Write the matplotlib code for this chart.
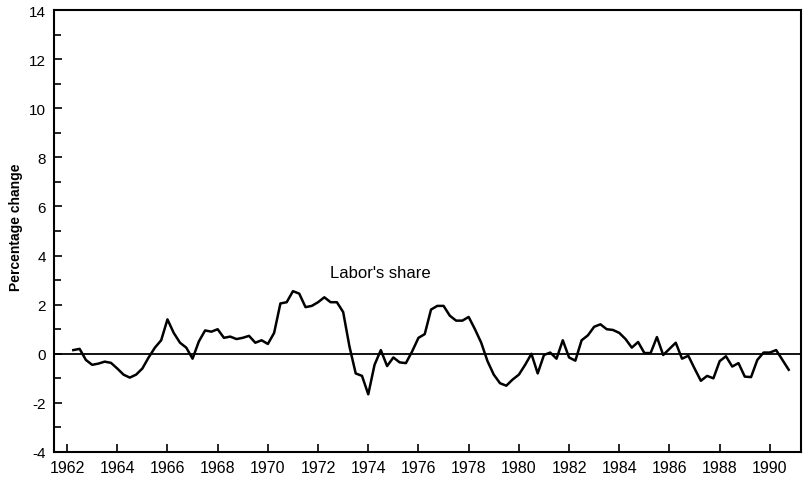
import matplotlib
matplotlib.use("Agg")
import matplotlib.pyplot as plt
from matplotlib.ticker import MultipleLocator

plt.rcParams['font.family'] = ['Liberation Sans', 'DejaVu Sans']

# Quarterly observations, 1962Q2 .. 1990Q4 (percentage change)
start_year = 1962.25
labor_share = [
    0.15, 0.2, -0.25,
    -0.45, -0.4, -0.32, -0.37,
    -0.6, -0.85, -0.97, -0.85,
    -0.6, -0.15, 0.25, 0.55,
    1.4, 0.85, 0.45, 0.25,
    -0.2, 0.5, 0.95, 0.9,
    1.0, 0.65, 0.7, 0.6,
    0.65, 0.73, 0.45, 0.55,
    0.4, 0.85, 2.05, 2.1,
    2.55, 2.45, 1.9, 1.95,
    2.1, 2.3, 2.1, 2.1,
    1.7, 0.3, -0.8, -0.9,
    -1.65, -0.45, 0.15, -0.5,
    -0.15, -0.35, -0.38, 0.1,
    0.65, 0.8, 1.8, 1.95,
    1.95, 1.55, 1.35, 1.35,
    1.5, 1.0, 0.45, -0.3,
    -0.85, -1.2, -1.3, -1.05,
    -0.85, -0.45, 0.0, -0.8,
    -0.05, 0.05, -0.2, 0.55,
    -0.15, -0.28, 0.55, 0.75,
    1.1, 1.2, 1.0, 0.97,
    0.85, 0.6, 0.25, 0.48,
    0.03, 0.03, 0.68, -0.05,
    0.2, 0.45, -0.2, -0.08,
    -0.6, -1.1, -0.9, -1.0,
    -0.3, -0.1, -0.52, -0.38,
    -0.93, -0.95, -0.25, 0.05,
    0.05, 0.15, -0.25, -0.65,
]
years = [start_year + 0.25 * i for i in range(len(labor_share))]

xticks = list(range(1962, 1991, 2))
yticks = list(range(-4, 15, 2))
series_label = "Labor's share"
ylabel = "Percentage change"

fig = plt.figure(figsize=(8.1, 4.85), dpi=100)
ax = fig.add_axes([54/810, 1 - 453/485, (801 - 54)/810, (453 - 11)/485])

ax.plot(years, labor_share, color='black', lw=1.8, solid_joinstyle='round')
ax.axhline(0, color='black', lw=1.3)

ax.set_xlim(1961.48, 1991.24)
ax.set_ylim(-4, 14)
ax.set_xticks(xticks)
ax.set_xticklabels([str(t) for t in xticks])
ax.set_yticks(yticks)
ax.set_yticklabels([str(t) for t in yticks])
ax.yaxis.set_minor_locator(MultipleLocator(1))

ax.tick_params(axis='both', which='major', direction='in', length=6, width=1.2,
               colors='black')
ax.tick_params(axis='x', which='major', labelsize=11.5, pad=6)
ax.tick_params(axis='y', which='major', labelsize=11, pad=6)
ax.tick_params(axis='y', which='minor', direction='in', length=5, width=1.2)

for s in ax.spines.values():
    s.set_linewidth(1.5)
    s.set_color('black')

ax.set_ylabel(ylabel, fontsize=10, fontweight='bold')
ax.yaxis.set_label_coords(-0.042, 0.51)

ax.text(1974.47, 3.33, series_label, fontsize=12, ha='center', va='center')

fig.savefig("out.png", dpi=100)
